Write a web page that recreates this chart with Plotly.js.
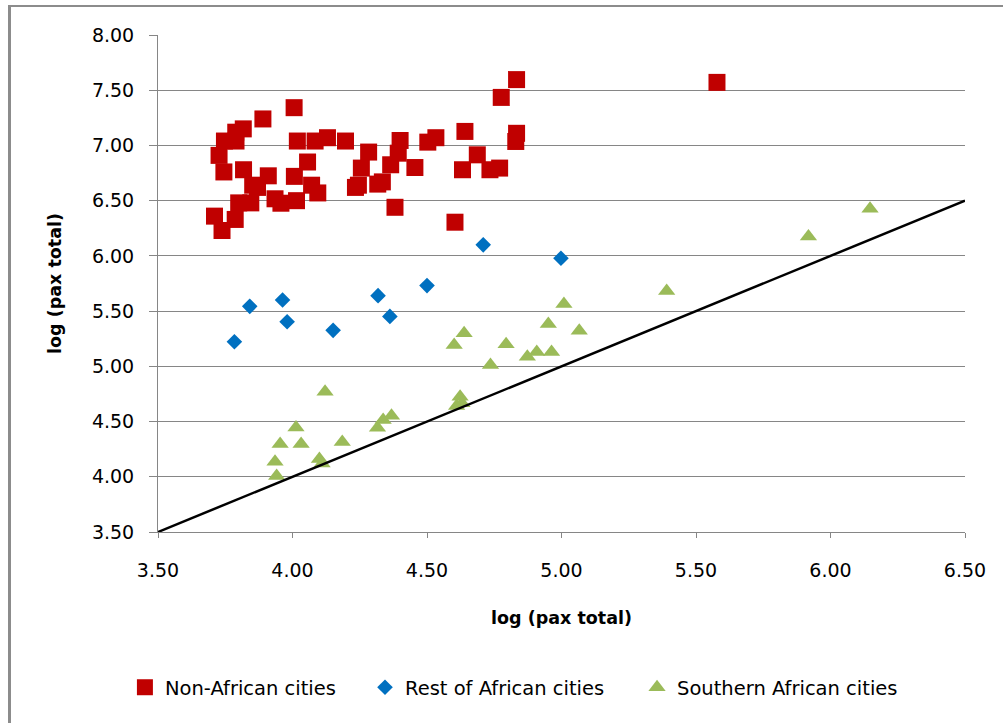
<!DOCTYPE html>
<html>
<head>
<meta charset="utf-8">
<script src="https://cdn.plot.ly/plotly-3.0.1.min.js"></script>
<style>
  html, body { margin: 0; padding: 0; background: #ffffff; }
  #frame { position: absolute; left: 8px; top: 5px; width: 995px; height: 718px;
           border-left: 3px solid #8c8c8c; border-top: 2px solid #8c8c8c; box-sizing: border-box; }
  #chart { position: absolute; left: 0; top: 0; width: 1003px; height: 723px; }
</style>
</head>
<body>
<div id="frame"></div>
<div id="chart"></div>
<script>
// Non-African cities
const nonAfricanX = [3.71, 3.738, 3.787, 3.727, 3.747, 3.79, 3.789, 3.817, 3.745, 3.818,
  3.852, 3.87, 3.89, 3.91, 3.80, 3.845, 3.935, 3.957, 4.006, 4.007,
  4.015, 4.018, 4.084, 4.13, 4.197, 4.056, 4.071, 4.094, 4.283, 4.256,
  4.234, 4.245, 4.317, 4.334, 4.365, 4.40, 4.393, 4.455, 4.381, 4.503,
  4.533, 4.604, 4.632, 4.641, 4.687, 4.734, 4.77, 4.776, 4.833, 4.833,
  4.83, 5.578];
const nonAfricanY = [6.36, 6.23, 6.33, 6.91, 7.04, 7.04, 7.12, 7.15, 6.76, 6.78,
  6.64, 6.62, 7.24, 6.725, 6.48, 6.48, 6.517, 6.477, 7.342, 6.72,
  6.50, 7.04, 7.04, 7.07, 7.04, 6.85, 6.64, 6.57, 6.94, 6.795,
  6.62, 6.64, 6.65, 6.67, 6.825, 7.045, 6.93, 6.80, 6.44, 7.03,
  7.07, 6.305, 6.78, 7.127, 6.915, 6.78, 6.795, 7.435, 7.596, 7.11,
  7.036, 7.571];

// Rest of African cities
const restAfricaX = [3.784, 3.841, 3.963, 3.98, 4.151, 4.318, 4.362, 4.50, 4.709, 4.998];
const restAfricaY = [5.223, 5.543, 5.601, 5.404, 5.326, 5.64, 5.452, 5.731, 6.10, 5.978];

// Southern African cities
const southAfricaX = [3.935, 3.941, 3.954, 4.013, 4.032, 4.10, 4.11, 4.121, 4.185, 4.316,
  4.337, 4.368, 4.601, 4.638, 4.61, 4.623, 4.63, 4.736, 4.794, 4.873,
  4.908, 4.951, 4.963, 5.009, 5.066, 5.391, 5.918, 6.147];
const southAfricaY = [4.135, 4.008, 4.296, 4.446, 4.296, 4.16, 4.12, 4.77, 4.316, 4.443,
  4.513, 4.552, 5.193, 5.30, 4.64, 4.725, 4.665, 5.012, 5.20, 5.087,
  5.13, 5.383, 5.13, 5.565, 5.323, 5.683, 6.175, 6.426];

// y = x reference line
const refLineX = [3.5, 6.5];
const refLineY = [3.5, 6.5];

const seriesNames = ['Non-African cities', 'Rest of African cities', 'Southern African cities'];
const axisTitle = 'log (pax total)';

const FONT = 'DejaVu Sans, sans-serif';

const traces = [
  { x: nonAfricanX, y: nonAfricanY, name: seriesNames[0], type: 'scatter', mode: 'markers',
    legend: 'legend',
    marker: { symbol: 'square', size: 17, color: '#C00000', line: { width: 0 } } },
  { x: restAfricaX, y: restAfricaY, name: seriesNames[1], type: 'scatter', mode: 'markers',
    legend: 'legend2',
    marker: { symbol: 'diamond', size: 12, color: '#0070C0', line: { width: 0 } } },
  { x: southAfricaX, y: southAfricaY, name: seriesNames[2], type: 'scatter', mode: 'markers',
    legend: 'legend3',
    marker: { symbol: 'triangle-up', size: 15, color: '#9BBB59', line: { width: 0 } } },
  { x: refLineX, y: refLineY, type: 'scatter', mode: 'lines', showlegend: false,
    line: { color: '#000000', width: 2.5 }, hoverinfo: 'skip' }
];

function legendAt(xPos) {
  return {
    orientation: 'h', x: xPos, xanchor: 'left', y: -0.313, yanchor: 'middle',
    font: { family: FONT, size: 19.5, color: '#000000' },
    bgcolor: 'rgba(0,0,0,0)', itemclick: false
  };
}

const layout = {
  width: 1003, height: 723,
  margin: { l: 158, r: 38, t: 35, b: 191 },
  paper_bgcolor: 'rgba(0,0,0,0)',
  plot_bgcolor: '#ffffff',
  font: { family: FONT, color: '#000000', size: 19 },
  showlegend: true,
  xaxis: {
    range: [3.5, 6.5], dtick: 0.5, tick0: 3.5, tickformat: '.2f',
    showgrid: false, zeroline: false,
    showline: true, linecolor: '#868686', linewidth: 1,
    ticks: 'outside', ticklen: 5, tickcolor: '#868686', tickwidth: 1,
    ticklabelstandoff: 16,
    tickfont: { family: FONT, size: 19, color: '#000000' },
    title: { text: axisTitle, font: { family: FONT, size: 17.5, color: '#000000', weight: 'bold' }, standoff: 31 }
  },
  yaxis: {
    range: [3.5, 8.0], dtick: 0.5, tick0: 3.5, tickformat: '.2f',
    showgrid: true, gridcolor: '#868686', gridwidth: 1, zeroline: false,
    showline: true, linecolor: '#868686', linewidth: 1,
    ticks: 'outside', ticklen: 8, tickcolor: '#868686', tickwidth: 1,
    ticklabelstandoff: 11,
    tickfont: { family: FONT, size: 19, color: '#000000' },
    title: { text: axisTitle, font: { family: FONT, size: 17.5, color: '#000000', weight: 'bold' }, standoff: 25 }
  },
  legend: legendAt(-0.041),
  legend2: legendAt(0.2565),
  legend3: legendAt(0.5936)
};

Plotly.newPlot('chart', traces, layout, { displayModeBar: false, staticPlot: true });
</script>
</body>
</html>
